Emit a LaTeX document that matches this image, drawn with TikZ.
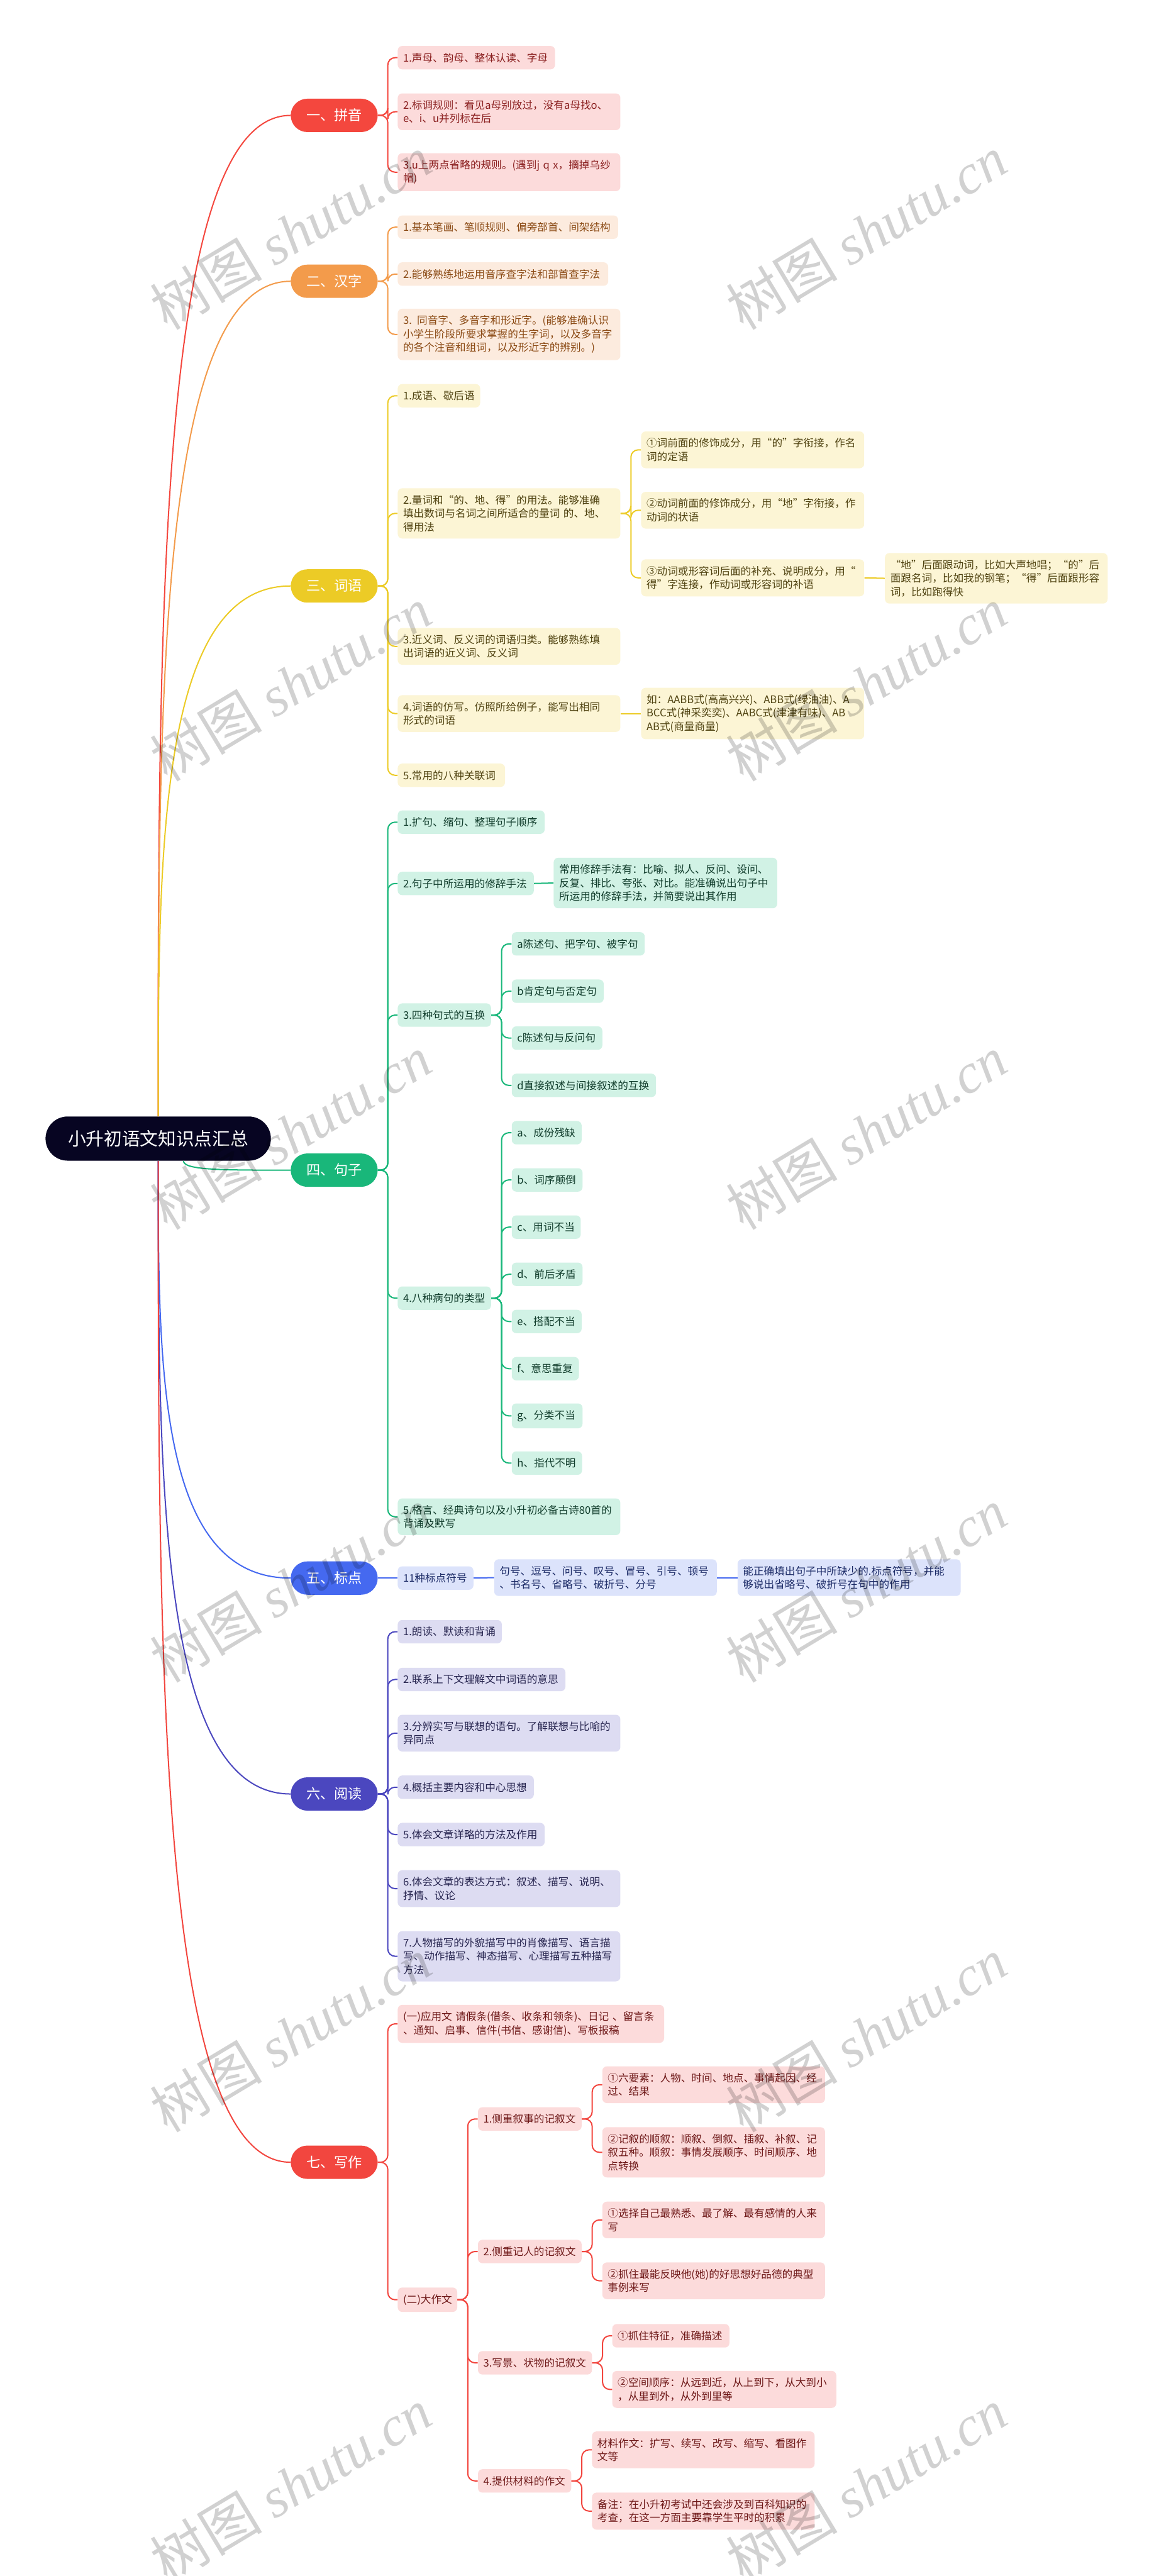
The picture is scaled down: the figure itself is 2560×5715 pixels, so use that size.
\documentclass[tikz,border=0pt]{standalone}
\usepackage{fontspec}
\setmainfont{Noto Sans CJK SC}
\newfontfamily\wmfont{Liberation Serif}
\usetikzlibrary{calc}

\definecolor{rootnavy}{HTML}{070522}
\definecolor{pyred}{HTML}{F4473E}
\definecolor{pyfill}{HTML}{FCDBDB}
\definecolor{pytext}{HTML}{8A1F1F}
\definecolor{hzorange}{HTML}{F39B4B}
\definecolor{hzfill}{HTML}{FCEBDE}
\definecolor{hztext}{HTML}{8B4A14}
\definecolor{cyyellow}{HTML}{ECCB26}
\definecolor{cyfill}{HTML}{FCF5D5}
\definecolor{cytext}{HTML}{4F4210}
\definecolor{jzgreen}{HTML}{19B77A}
\definecolor{jzfill}{HTML}{D1F2E5}
\definecolor{jztext}{HTML}{113D2C}
\definecolor{bdblue}{HTML}{4569F0}
\definecolor{bdfill}{HTML}{DCE3FB}
\definecolor{bdtext}{HTML}{1B2A66}
\definecolor{ydindigo}{HTML}{4B47BF}
\definecolor{ydfill}{HTML}{DDDCF2}
\definecolor{ydtext}{HTML}{26244F}
\definecolor{xzred}{HTML}{F2463F}
\definecolor{xzfill}{HTML}{FCDBDB}
\definecolor{xztext}{HTML}{6E1818}

\newcommand\leaffont{\fontsize{11.6pt}{15pt}\selectfont}
\newcommand\topicfont{\fontsize{15.5pt}{18pt}\selectfont}
\newcommand\rootfont{\fontsize{20pt}{24pt}\selectfont}

\tikzset{
  leaf/.style={anchor=west, rounded corners=5pt, align=left, inner xsep=6pt, inner ysep=7.5pt,
    minimum height=26pt, text width={#1*0.5pt-12pt}, font=\leaffont},
  pyleaf/.style={leaf=#1, fill=pyfill, text=pytext},
  hzleaf/.style={leaf=#1, fill=hzfill, text=hztext},
  cyleaf/.style={leaf=#1, fill=cyfill, text=cytext},
  jzleaf/.style={leaf=#1, fill=jzfill, text=jztext},
  bdleaf/.style={leaf=#1, fill=bdfill, text=bdtext},
  ydleaf/.style={leaf=#1, fill=ydfill, text=ydtext},
  xzleaf/.style={leaf=#1, fill=xzfill, text=xztext},
  topic/.style={fill=#1, text=white, rounded corners=18.5pt, minimum width=96.5pt,
    minimum height=37pt, inner sep=0pt, font=\topicfont},
  rootbox/.style={fill=rootnavy, text=white, rounded corners=24.5pt, minimum width=250pt,
    minimum height=49pt, inner sep=0pt, font=\rootfont},
  link/.style={draw=#1, line width=1.4pt, rounded corners=8pt},
  wmtext/.style={rotate=31, text=black, text opacity=0.18, inner sep=0pt,
    font=\fontsize{62pt}{62pt}\selectfont},
}

\begin{document}
\begin{tikzpicture}[x=0.5pt, y=-0.5pt]
    \useasboundingbox (0,0) rectangle (2560,5715);

    % Root and main topics
    \node[rootbox] (root) at (351,2526) {小升初语文知识点汇总};
    \node[topic=pyred] (py) at (741.5,256) {一、拼音};
    \node[topic=hzorange] (hz) at (741.5,624) {二、汉字};
    \node[topic=cyyellow] (cy) at (741.5,1300) {三、词语};
    \node[topic=jzgreen] (jz) at (741.5,2596) {四、句子};
    \node[topic=bdblue] (bd) at (741.5,3501) {五、标点};
    \node[topic=ydindigo] (yd) at (741.5,3980) {六、阅读};
    \node[topic=xzred] (xz) at (741.5,4797) {七、写作};

    \draw[link=pyred] (root.north) .. controls ($(root.north)!0.5!(root.north |- py.west)$) and (root.north |- py.west) .. (py.west);
    \draw[link=hzorange] (root.north) .. controls ($(root.north)!0.5!(root.north |- hz.west)$) and (root.north |- hz.west) .. (hz.west);
    \draw[link=cyyellow] (root.north) .. controls ($(root.north)!0.5!(root.north |- cy.west)$) and (root.north |- cy.west) .. (cy.west);
    \coordinate (rs) at ($(root.south)+(56,0)$);
    \draw[link=jzgreen] (rs) .. controls +(0,21) and +(-150,0) .. (jz.west);
    \draw[link=bdblue] (root.south) .. controls ($(root.south)!0.5!(root.south |- bd.west)$) and (root.south |- bd.west) .. (bd.west);
    \draw[link=ydindigo] (root.south) .. controls ($(root.south)!0.5!(root.south |- yd.west)$) and (root.south |- yd.west) .. (yd.west);
    \draw[link=xzred] (root.south) .. controls ($(root.south)!0.5!(root.south |- xz.west)$) and (root.south |- xz.west) .. (xz.west);

    % 一、拼音
    \node[pyleaf=349] (py1) at (882,128) {1.声母、韵母、整体认读、字母};
    \node[pyleaf=494] (py2) at (882,248) {2.标调规则：看见a母别放过，没有a母找o、\\e、i、u并列标在后};
    \node[pyleaf=494] (py3) at (882,382) {3.u上两点省略的规则。(遇到j q x，摘掉乌纱\\帽)};
    \foreach \c in {py1,py2,py3}
        \draw[link=pyred] (py.east) -- ++(22,0) |- (\c.west);

    % 二、汉字
    \node[hzleaf=489] (hz1) at (882,504) {1.基本笔画、笔顺规则、偏旁部首、间架结构};
    \node[hzleaf=467] (hz2) at (882,608) {2.能够熟练地运用音序查字法和部首查字法};
    \node[hzleaf=494] (hz3) at (882,742) {3. 同音字、多音字和形近字。(能够准确认识\\小学生阶段所要求掌握的生字词，以及多音字\\的各个注音和组词，以及形近字的辨别。)};
    \foreach \c in {hz1,hz2,hz3}
        \draw[link=hzorange] (hz.east) -- ++(22,0) |- (\c.west);

    % 三、词语
    \node[cyleaf=183] (cy1) at (882,878) {1.成语、歇后语};
    \node[cyleaf=494] (cy2) at (882,1139) {2.量词和“的、地、得”的用法。能够准确\\填出数词与名词之间所适合的量词 的、地、\\得用法};
    \node[cyleaf=495] (cy2a) at (1422,998) {①词前面的修饰成分，用“的”字衔接，作名\\词的定语};
    \node[cyleaf=495] (cy2b) at (1422,1132) {②动词前面的修饰成分，用“地”字衔接，作\\动词的状语};
    \node[cyleaf=495] (cy2c) at (1422,1282) {③动词或形容词后面的补充、说明成分，用“\\得”字连接，作动词或形容词的补语};
    \node[cyleaf=494] (cy2d) at (1963,1283) {“地”后面跟动词，比如大声地唱；“的”后\\面跟名词，比如我的钢笔；“得”后面跟形容\\词，比如跑得快};
    \node[cyleaf=494] (cy3) at (882,1434) {3.近义词、反义词的词语归类。能够熟练填\\出词语的近义词、反义词};
    \node[cyleaf=494] (cy4) at (882,1583) {4.词语的仿写。仿照所给例子，能写出相同\\形式的词语};
    \node[cyleaf=495] (cy4a) at (1422,1583) {如：AABB式(高高兴兴)、ABB式(绿油油)、A\\BCC式(神采奕奕)、AABC式(津津有味)、AB\\AB式(商量商量)};
    \node[cyleaf=238] (cy5) at (882,1720) {5.常用的八种关联词};
    \foreach \c in {cy1,cy2,cy3,cy4,cy5}
        \draw[link=cyyellow] (cy.east) -- ++(22,0) |- (\c.west);
    \foreach \c in {cy2a,cy2b,cy2c}
        \draw[link=cyyellow] (cy2.east) -- ++(23,0) |- (\c.west);
    \draw[link=cyyellow] (cy2c.east) -- (cy2d.west);
    \draw[link=cyyellow] (cy4.east) -- (cy4a.west);

    % 四、句子
    \node[jzleaf=326] (jz1) at (882,1824) {1.扩句、缩句、整理句子顺序};
    \node[jzleaf=302] (jz2) at (882,1960) {2.句子中所运用的修辞手法};
    \node[jzleaf=496] (jz2a) at (1228,1959) {常用修辞手法有：比喻、拟人、反问、设问、\\反复、排比、夸张、对比。能准确说出句子中\\所运用的修辞手法，并简要说出其作用};
    \node[jzleaf=207] (jz3) at (882,2252) {3.四种句式的互换};
    \node[jzleaf=295] (jz3a) at (1135,2094) {a陈述句、把字句、被字句};
    \node[jzleaf=204] (jz3b) at (1135,2199) {b肯定句与否定句};
    \node[jzleaf=201] (jz3c) at (1135,2303) {c陈述句与反问句};
    \node[jzleaf=320] (jz3d) at (1135,2408) {d直接叙述与间接叙述的互换};
    \node[jzleaf=207] (jz4) at (882,2880) {4.八种病句的类型};
    \foreach \k/\w/\lbl [count=\i from 0] in {a/155/a、成份残缺, b/157/b、词序颠倒, c/153/c、用词不当,
        d/157/d、前后矛盾, e/155/e、搭配不当, f/149/f、意思重复, g/157/g、分类不当, h/156/h、指代不明}
        \node[jzleaf=\w] (jz4\k) at (1135,2513+104.7*\i) {\lbl};
    \node[jzleaf=494] (jz5) at (882,3365) {5.格言、经典诗句以及小升初必备古诗80首的\\背诵及默写};
    \foreach \c in {jz1,jz2,jz3,jz4,jz5}
        \draw[link=jzgreen] (jz.east) -- ++(22,0) |- (\c.west);
    \draw[link=jzgreen] (jz2.east) -- (jz2a.west);
    \foreach \c in {jz3a,jz3b,jz3c,jz3d}
        \draw[link=jzgreen] (jz3.east) -- ++(23,0) |- (\c.west);
    \foreach \k in {a,b,c,d,e,f,g,h}
        \draw[link=jzgreen] (jz4.east) -- ++(23,0) |- (jz4\k.west);

    % 五、标点
    \node[bdleaf=168] (bd1) at (882,3501) {11种标点符号};
    \node[bdleaf=494] (bd1a) at (1096,3500) {句号、逗号、问号、叹号、冒号、引号、顿号\\、书名号、省略号、破折号、分号};
    \node[bdleaf=495] (bd1b) at (1636,3500) {能正确填出句子中所缺少的.标点符号，并能\\够说出省略号、破折号在句中的作用};
    \draw[link=bdblue] (bd.east) -- (bd1.west);
    \draw[link=bdblue] (bd1.east) -- (bd1a.west);
    \draw[link=bdblue] (bd1a.east) -- (bd1b.west);

    % 六、阅读
    \node[ydleaf=231] (yd1) at (882,3620) {1.朗读、默读和背诵};
    \node[ydleaf=372] (yd2) at (882,3726) {2.联系上下文理解文中词语的意思};
    \node[ydleaf=494] (yd3) at (882,3845) {3.分辨实写与联想的语句。了解联想与比喻的\\异同点};
    \node[ydleaf=302] (yd4) at (882,3965) {4.概括主要内容和中心思想};
    \node[ydleaf=326] (yd5) at (882,4070) {5.体会文章详略的方法及作用};
    \node[ydleaf=494] (yd6) at (882,4190) {6.体会文章的表达方式：叙述、描写、说明、\\抒情、议论};
    \node[ydleaf=494] (yd7) at (882,4340) {7.人物描写的外貌描写中的肖像描写、语言描\\写、动作描写、神态描写、心理描写五种描写\\方法};
    \foreach \c in {yd1,yd2,yd3,yd4,yd5,yd6,yd7}
        \draw[link=ydindigo] (yd.east) -- ++(22,0) |- (\c.west);

    % 七、写作
    \node[xzleaf=591] (xz1) at (882,4490) {(一)应用文 请假条(借条、收条和领条)、日记 、留言条\\、通知、启事、信件(书信、感谢信)、写板报稿};
    \node[xzleaf=132] (xz2) at (882,5102) {(二)大作文};
    \node[xzleaf=230] (xz2a) at (1060,4701) {1.侧重叙事的记叙文};
    \node[xzleaf=494] (xz2a1) at (1336,4625) {①六要素：人物、时间、地点、事情起因、经\\过、结果};
    \node[xzleaf=494] (xz2a2) at (1336,4775) {②记叙的顺叙：顺叙、倒叙、插叙、补叙、记\\叙五种。顺叙：事情发展顺序、时间顺序、地\\点转换};
    \node[xzleaf=230] (xz2b) at (1060,4995) {2.侧重记人的记叙文};
    \node[xzleaf=494] (xz2b1) at (1336,4925) {①选择自己最熟悉、最了解、最有感情的人来\\写};
    \node[xzleaf=494] (xz2b2) at (1336,5060) {②抓住最能反映他(她)的好思想好品德的典型\\事例来写};
    \node[xzleaf=253] (xz2c) at (1060,5242) {3.写景、状物的记叙文};
    \node[xzleaf=260] (xz2c1) at (1358,5182) {①抓住特征，准确描述};
    \node[xzleaf=497] (xz2c2) at (1358,5301) {②空间顺序：从远到近，从上到下，从大到小\\，从里到外，从外到里等};
    \node[xzleaf=207] (xz2d) at (1060,5504) {4.提供材料的作文};
    \node[xzleaf=494] (xz2d1) at (1313,5435) {材料作文：扩写、续写、改写、缩写、看图作\\文等};
    \node[xzleaf=494] (xz2d2) at (1313,5571) {备注：在小升初考试中还会涉及到百科知识的\\考查，在这一方面主要靠学生平时的积累};
    \foreach \c in {xz1,xz2}
        \draw[link=xzred] (xz.east) -- ++(22,0) |- (\c.west);
    \foreach \c in {xz2a,xz2b,xz2c,xz2d}
        \draw[link=xzred] (xz2.east) -- ++(23,0) |- (\c.west);
    \foreach \c in {xz2a1,xz2a2}
        \draw[link=xzred] (xz2a.east) -- ++(23,0) |- (\c.west);
    \foreach \c in {xz2b1,xz2b2}
        \draw[link=xzred] (xz2b.east) -- ++(23,0) |- (\c.west);
    \foreach \c in {xz2c1,xz2c2}
        \draw[link=xzred] (xz2c.east) -- ++(23,0) |- (\c.west);
    \foreach \c in {xz2d1,xz2d2}
        \draw[link=xzred] (xz2d.east) -- ++(23,0) |- (\c.west);

    % Watermarks
    \foreach \yy [count=\r] in {516,1517,2512,3517,4514,5513} {
        \node[wmtext] (wml\r) at (645,\yy) {树图 {\wmfont\itshape shutu.cn}};
        \node[wmtext] (wmr\r) at (1922,\yy) {树图 {\wmfont\itshape shutu.cn}};
    }
\end{tikzpicture}
\end{document}
